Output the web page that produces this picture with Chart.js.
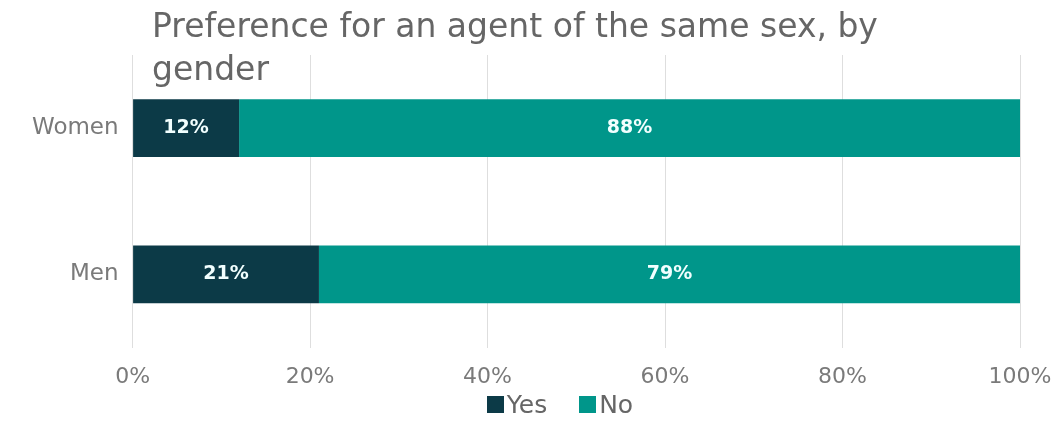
<!DOCTYPE html>
<html>
<head>
<meta charset="utf-8">
<script src="https://cdn.jsdelivr.net/npm/chart.js@4/dist/chart.umd.min.js"></script>
<style>
  html, body { margin: 0; padding: 0; background: #fff; }
  #wrap { position: relative; width: 1059px; height: 425px; font-family: "DejaVu Sans", sans-serif; }
  #title {
    position: absolute; left: 152px; top: 4px; width: 880px;
    font-size: 33px; line-height: 43px; color: #666; pointer-events: none;
  }
  #legend {
    position: absolute; left: 0; width: 1120px; top: 389px; height: 30px;
    display: flex; justify-content: center; align-items: center;
    font-size: 25px; color: #666;
  }
  #legend span.item { display: flex; align-items: center; margin: 0 16px; }
  #legend span.box { display: inline-block; width: 17px; height: 17px; margin-right: 3px; }
</style>
</head>
<body>
<div id="wrap">
  <canvas id="chart" width="1059" height="425"></canvas>
  <div id="title">Preference for an agent of the same sex, by<br>gender</div>
  <div id="legend"></div>
</div>
<script>
const $ = e => document.querySelector(e);
const groups = ['Women', 'Men'];
const yes = [12, 21];
const no = [88, 79];
const xTicks = [0, 20, 40, 60, 80, 100];
const font = '"DejaVu Sans", sans-serif';

// white labels in the middle of each segment
const barLabels = {
    id: 'barLabels',
    afterDatasetsDraw(chart) {
        const ctx = chart.ctx;
        ctx.save();
        ctx.fillStyle = '#f2ffff';
        ctx.font = 'bold 19px ' + font;
        ctx.textAlign = 'center';
        ctx.textBaseline = 'middle';
        chart.data.datasets.forEach((ds, i) => {
            chart.getDatasetMeta(i).data.forEach((bar, j) => {
                ctx.fillText(ds.data[j] + '%', (bar.x + bar.base) / 2, bar.y);
            });
        });
        ctx.restore();
    }
};

const chart = new Chart($('#chart'), {
    type: 'bar',
    data: {
        labels: groups,
        datasets: [
            { label: 'Yes', data: yes, backgroundColor: '#0c3a47', categoryPercentage: 1, barPercentage: 0.395 },
            { label: 'No', data: no, backgroundColor: '#00968a', categoryPercentage: 1, barPercentage: 0.395 }
        ]
    },
    options: {
        indexAxis: 'y',
        responsive: false,
        animation: false,
        layout: { padding: { top: 55, left: 26, right: 39, bottom: 19 } },
        scales: {
            x: {
                stacked: true,
                min: 0, max: 100,
                afterBuildTicks: axis => { axis.ticks = xTicks.map(v => ({ value: v })); },
                // let the layout padding decide the edges, not the label overflow
                afterFit: axis => { axis.paddingLeft = 0; axis.paddingRight = 0; },
                grid: { color: '#dedede', drawTicks: false },
                border: { display: false },
                ticks: {
                    padding: 16,
                    color: '#7a7a7a',
                    font: { family: font, size: 22 },
                    callback: v => v + '%'
                }
            },
            y: {
                stacked: true,
                grid: { display: false },
                border: { display: false },
                ticks: {
                    padding: 6,
                    color: '#7a7a7a',
                    font: { family: font, size: 23 }
                }
            }
        },
        plugins: {
            legend: { display: false },
            tooltip: { enabled: false }
        }
    },
    plugins: [barLabels]
});

// html legend built from the datasets
chart.data.datasets.forEach(ds => {
    const item = document.createElement('span');
    item.className = 'item';
    item.innerHTML = '<span class="box" style="background:' + ds.backgroundColor + '"></span>' + ds.label;
    $('#legend').appendChild(item);
});
</script>
</body>
</html>
